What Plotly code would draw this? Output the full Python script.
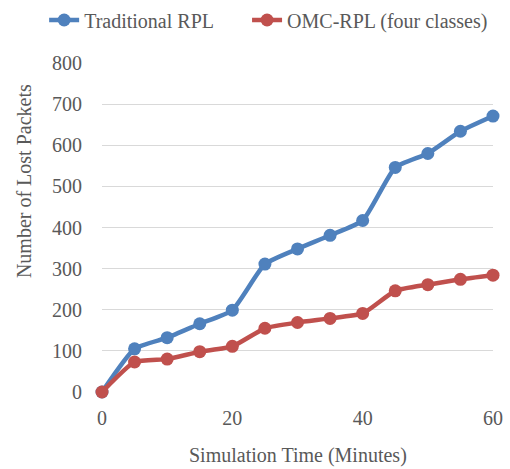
import plotly.graph_objects as go

minutes = [0, 5, 10, 15, 20, 25, 30, 35, 40, 45, 50, 55, 60]
traditional_rpl = [0, 105, 132, 166, 199, 311, 348, 381, 417, 546, 580, 634, 671]
omc_rpl = [0, 73, 80, 98, 111, 155, 169, 179, 191, 246, 261, 274, 284]

series_names = ["Traditional RPL", "OMC-RPL (four classes)"]
series_colors = ["#4F81BD", "#C0504D"]
legend_ids = ["legend", "legend2"]
x_title = "Simulation Time (Minutes)"
y_title = "Number of Lost Packets"

font_family = "Liberation Serif, Times New Roman, serif"
text_color = "#595959"
fs = 20

fig = go.Figure()
for name, vals, col, lg in zip(series_names, [traditional_rpl, omc_rpl], series_colors, legend_ids):
    fig.add_trace(go.Scatter(
        x=minutes, y=vals, name=name, mode="lines+markers",
        line=dict(color=col, width=4.5, shape="spline", smoothing=0.5),
        marker=dict(color=col, size=13),
        cliponaxis=False, legend=lg,
    ))

legend_common = dict(orientation="h", xanchor="left", xref="paper",
                     y=1.19, yanchor="top", yref="paper",
                     font=dict(size=fs, color=text_color),
                     bgcolor="rgba(0,0,0,0)")

fig.update_layout(
    width=510, height=469,
    margin=dict(l=102, r=17, t=63, b=77, autoexpand=False),
    paper_bgcolor="white", plot_bgcolor="white",
    font=dict(family=font_family, size=fs, color=text_color),
    showlegend=True,
    legend=dict(x=-0.148, **legend_common),
    legend2=dict(x=0.371, **legend_common),
    xaxis=dict(range=[0, 60], tickvals=[0, 20, 40, 60], showgrid=False,
               zeroline=False, showline=False, ticks="", automargin=False,
               ticklabelstandoff=12,
               tickfont=dict(size=fs, color=text_color)),
    yaxis=dict(range=[0, 800], tickvals=list(range(0, 801, 100)),
               showgrid=True, gridcolor="#D9D9D9", gridwidth=1.3,
               zeroline=False, showline=False, ticks="", automargin=False,
               ticklabelstandoff=19,
               tickfont=dict(size=fs, color=text_color)),
    annotations=[
        dict(text=x_title, xref="paper", x=0.5, xanchor="center",
             yref="paper", y=-0.1915, yanchor="middle", showarrow=False,
             font=dict(size=fs, color=text_color)),
        dict(text=y_title, xref="paper", x=-0.1995, xanchor="center",
             yref="paper", y=0.641, yanchor="middle", textangle=-90,
             showarrow=False, font=dict(size=fs, color=text_color)),
    ],
)

fig.write_html("out.html", config={"displayModeBar": False},
               post_script="document.body.style.margin='0';document.body.style.padding='0';")
